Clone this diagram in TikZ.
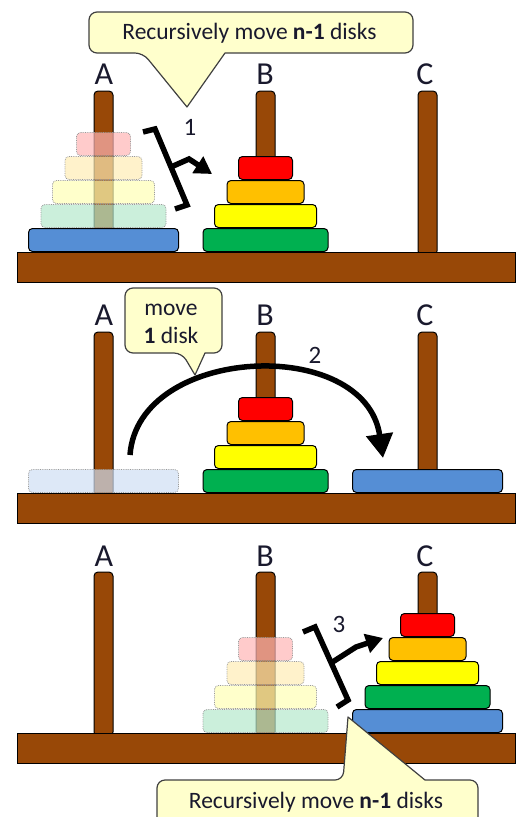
\documentclass[tikz,border=0pt]{standalone}
\usepackage{fontspec}
\setmainfont{Carlito}
\usetikzlibrary{arrows.meta}
\definecolor{wood}{RGB}{152,72,7}
\definecolor{dblue}{RGB}{85,142,213}
\definecolor{dgreen}{RGB}{0,176,80}
\definecolor{dyellow}{RGB}{255,255,0}
\definecolor{dorange}{RGB}{255,192,0}
\definecolor{dred}{RGB}{255,0,0}
\definecolor{callfill}{RGB}{255,255,204}
\definecolor{callline}{RGB}{64,64,64}
\definecolor{ink}{RGB}{25,25,45}
\tikzset{
  woodstyle/.style={fill=wood, draw=black, line width=1pt},
  pegstyle/.style={fill=wood, draw=black, line width=1pt, rounded corners=4pt},
  diskstyle/.style={draw=black, line width=1pt, rounded corners=4pt},
  fadedstyle/.style={fill opacity=0.7, draw=black!40, densely dotted, line width=0.8pt, rounded corners=4pt},
  pegl/.style={font=\fontsize{32}{36}\selectfont, text=ink, inner sep=0pt},
  numl/.style={font=\fontsize{25}{30}\selectfont, text=ink, inner sep=0pt},
  calltext/.style={font=\fontsize{23.5}{28}\selectfont, text=ink, inner sep=0pt, anchor=base},
  callout/.style={fill=callfill, draw=callline, line width=1.2pt, line join=round},
  bigarrow/.style={line width=5.5pt, -{Triangle[length=24pt,width=26pt]}},
  bracket/.style={line width=5.5pt, line join=miter},
  brackarrow/.style={line width=5.5pt, -{Triangle[length=17pt,width=19pt]}},
}
\newcommand\hpeg[2]{\path[pegstyle] ({#1-9.5},{#2+3}) -- ({#1-9.5},{#2-161}) -- ({#1+9.5},{#2-161}) -- ({#1+9.5},{#2+3}) -- cycle;}
\newcommand\hbase[1]{\path[woodstyle] (17,#1) rectangle (515,{#1+30});}
\newcommand\hdisk[5]{\path[diskstyle, fill=#5] ({#1-#4},{#2-24*#3-23.5}) rectangle ({#1+#4},{#2-24*#3-0.5});}
\newcommand\fdisk[5]{\path[fadedstyle, fill=#5!29] ({#1-#4},{#2-24*#3-23.5}) rectangle ({#1+#4},{#2-24*#3-0.5});}
\begin{document}
\begin{tikzpicture}[x=1pt,y=-1pt]
\useasboundingbox (0,0) rectangle (523,817);
\clip (0,0) rectangle (523,817);
% ---------------- panel 1 ----------------
\hpeg{103.5}{252}\hpeg{265.5}{252}\hpeg{427.5}{252}
\hbase{252}
\hdisk{103.5}{252}{0}{75}{dblue}
\fdisk{103.5}{252}{1}{62.5}{dgreen}
\fdisk{103.5}{252}{2}{51}{dyellow}
\fdisk{103.5}{252}{3}{38.5}{dorange}
\fdisk{103.5}{252}{4}{27}{dred}
\hdisk{265.5}{252}{0}{62.5}{dgreen}
\hdisk{265.5}{252}{1}{51}{dyellow}
\hdisk{265.5}{252}{2}{38.5}{dorange}
\hdisk{265.5}{252}{3}{27}{dred}
\node[pegl] (A1) at (104,74) {A};
\node[pegl] (B1) at (265,74) {B};
\node[pegl] (C1) at (425,74) {C};
\draw[bracket] (143,132) -- (155,129) -- (187,205) -- (175,209);
\coordinate (m1) at (171,167);
\coordinate (k1) at (189,159);
\coordinate (e1) at (212,174);
\draw[brackarrow] (m1) -- (k1) -- (e1);
\node[numl] (n1) at (190,127.5) {1};
\path[callout] (143,53) -- (187,107) -- (225,53) [rounded corners=8pt] -- (413,53) -- (413,12) -- (89,12) -- (89,53) -- cycle;
\node[calltext] (t1) at (249.5,39) {Recursively move \textbf{n-1} disks};
% ---------------- panel 2 ----------------
\hpeg{103.5}{493}\hpeg{265.5}{493}\hpeg{427.5}{493}
\hbase{493}
\fdisk{103.5}{493}{0}{75}{dblue}
\hdisk{265.5}{493}{0}{62.5}{dgreen}
\hdisk{265.5}{493}{1}{51}{dyellow}
\hdisk{265.5}{493}{2}{38.5}{dorange}
\hdisk{265.5}{493}{3}{27}{dred}
\hdisk{427.5}{493}{0}{75}{dblue}
\node[pegl] (A2) at (104,315) {A};
\node[pegl] (B2) at (265,315) {B};
\node[pegl] (C2) at (425,315) {C};
\coordinate (s2) at (130,455);
\coordinate (e2) at (383,458);
\draw[bigarrow] (s2) .. controls (138,345) and (365,335) .. (e2);
\node[numl] (n2) at (315,355) {2};
\path[callout] (182,353) -- (195,375) -- (205,353) [rounded corners=8pt] -- (222,353) -- (222,288) -- (125,288) -- (125,353) -- cycle;
\node[calltext] (t2a) at (171,315) {move};
\node[calltext] (t2b) at (171,343) {\textbf{1} disk};
% ---------------- panel 3 ----------------
\hpeg{103.5}{733}\hpeg{265.5}{733}\hpeg{427.5}{733}
\hbase{733}
\fdisk{265.5}{733}{0}{62.5}{dgreen}
\fdisk{265.5}{733}{1}{51}{dyellow}
\fdisk{265.5}{733}{2}{38.5}{dorange}
\fdisk{265.5}{733}{3}{27}{dred}
\hdisk{427.5}{733}{0}{75}{dblue}
\hdisk{427.5}{733}{1}{62.5}{dgreen}
\hdisk{427.5}{733}{2}{51}{dyellow}
\hdisk{427.5}{733}{3}{38.5}{dorange}
\hdisk{427.5}{733}{4}{27}{dred}
\node[pegl] (A3) at (104,556) {A};
\node[pegl] (B3) at (265,556) {B};
\node[pegl] (C3) at (425,556) {C};
\draw[bracket] (303,632) -- (315,627) -- (348,700) -- (337,707);
\coordinate (m3) at (331,663);
\coordinate (k3) at (356,647);
\coordinate (e3) at (383,638);
\draw[brackarrow] (m3) -- (k3) -- (e3);
\node[numl] (n3) at (339,624) {3};
\path[callout] (343,780) -- (348,717) -- (425,780) [rounded corners=8pt] -- (478,780) -- (478,840) -- (157,840) -- (157,780) -- cycle;
\node[calltext] (t3) at (316,808) {Recursively move \textbf{n-1} disks};
\end{tikzpicture}
\end{document}
